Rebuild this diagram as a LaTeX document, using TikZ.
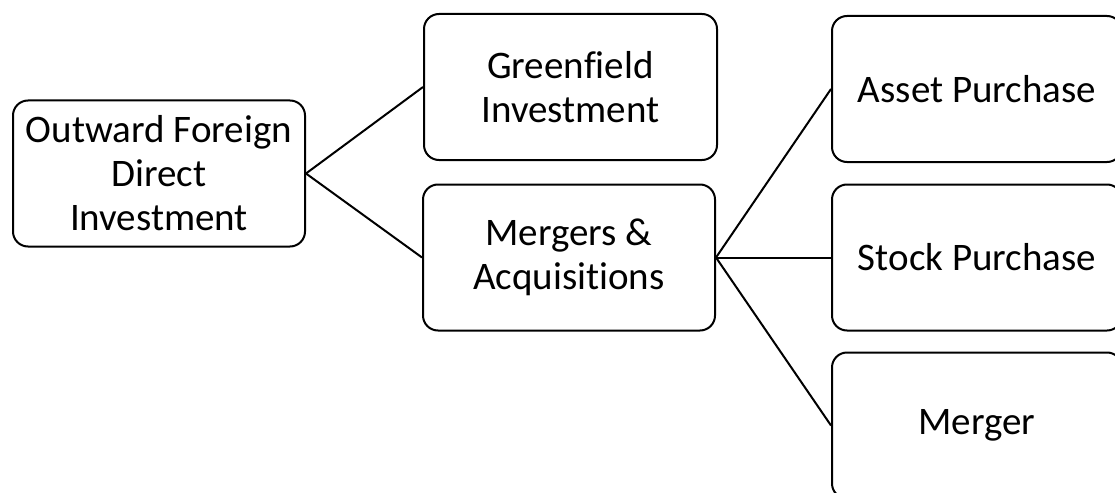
\documentclass[tikz,border=0pt]{standalone}
\usepackage{fontspec}
\setmainfont[Ligatures=NoCommon]{Carlito}
\begin{document}
\begin{tikzpicture}[x=1pt,y=-1pt,
  box/.style={draw=black, line width=2pt, rounded corners=15pt, fill=white,
    align=center, inner sep=0pt, minimum width=#1, minimum height=146pt,
    font=\fontsize{39}{44}\selectfont},
  box/.default=292pt,
  link/.style={draw=black, line width=2pt}]
\useasboundingbox (0,0) rectangle (1115,492);
\clip (0,0) rectangle (1115,492);
\fill[white] (0,0) rectangle (1115,492);
% root
\node[box] (ofdi) at (159,173.5) {Outward Foreign\\Direct\\Investment};
% second level
\node[box=293pt] (green) at (570.5,87) {Greenfield\\Investment};
\node[box] (ma) at (569,257.5) {Mergers \&\\Acquisitions};
% third level
\node[box=290pt] (asset) at (977,89) {Asset Purchase};
\node[box=290pt] (stock) at (977,257.5) {Stock Purchase};
\node[box=290pt] (merger) at (977,425.5) {Merger};
% connectors
\draw[link] (ofdi.east) -- (green.west);
\draw[link] (ofdi.east) -- (ma.west);
\draw[link] (ma.east) -- (asset.west);
\draw[link] (ma.east) -- (stock.west);
\draw[link] (ma.east) -- (merger.west);
\end{tikzpicture}
\end{document}
